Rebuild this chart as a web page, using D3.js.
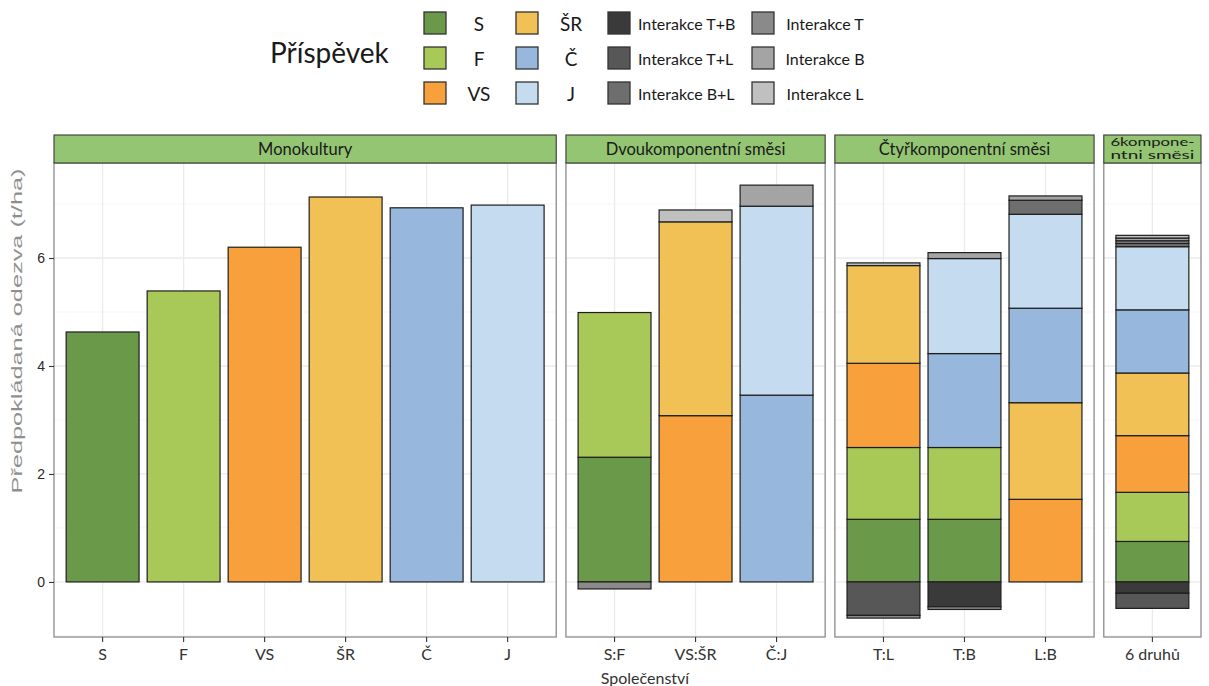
<!DOCTYPE html>
<html><head><meta charset="utf-8">
<script src="https://cdn.jsdelivr.net/npm/d3@7"></script>
<style>body{margin:0;background:#fff}</style>
</head><body><svg id="c" width="1209" height="686"></svg>
<script>
// ---------- data ----------
const communities = ["S","F","VS","ŠR","Č","J","S:F","VS:ŠR","Č:J","T:L","T:B","L:B","6 druhů"];
const communityFacet = [0,0,0,0,0,0,1,1,1,2,2,2,3];
const facetLabels = [["Monokultury"],["Dvoukomponentní směsi"],["Čtyřkomponentní směsi"],["6kompone-","ntni směsi"]];
const seriesNames = ["S","F","VS","ŠR","Č","J","Interakce T+B","Interakce T+L","Interakce B+L","Interakce T","Interakce B","Interakce L"];
const seriesColors = ["#6a994a","#a8c957","#f7a03c","#f2c155","#97b8dc","#c5dbef","#3a3a3a","#575757","#6e6e6e","#8a8a8a","#a4a4a4","#c0c0c0"];
const valS   = [4.63,0,0,0,0,0, 2.31,0,0, 1.16,1.16,0, 0.75];
const valF   = [0,5.39,0,0,0,0, 2.68,0,0, 1.33,1.33,0, 0.91];
const valVS  = [0,0,6.20,0,0,0, 0,3.08,0, 1.56,0,1.53, 1.05];
const valSR  = [0,0,0,7.13,0,0, 0,3.59,0, 1.81,0,1.79, 1.16];
const valC   = [0,0,0,0,6.93,0, 0,0,3.46, 0,1.74,1.75, 1.17];
const valJ   = [0,0,0,0,0,6.98, 0,0,3.50, 0,1.76,1.74, 1.17];
const valTB  = [0,0,0,0,0,0, 0,0,0, 0,-0.46,0, -0.21];
const valTL  = [0,0,0,0,0,0, 0,0,0, -0.62,0,0, -0.28];
const valBL  = [0,0,0,0,0,0, 0,0,0, 0,0,0.26, 0.06];
const valT   = [0,0,0,0,0,0, -0.13,0,0, -0.05,-0.05,0, 0.05];
const valB   = [0,0,0,0,0,0, 0,0,0.39, 0,0.11,0.08, 0.05];
const valL   = [0,0,0,0,0,0, 0,0.22,0, 0.05,0,0, 0.05];
const seriesValues = [valS,valF,valVS,valSR,valC,valJ,valTB,valTL,valBL,valT,valB,valL];
const stackUpOrder = ["S","F","VS","ŠR","Č","J","Interakce B+L","Interakce T","Interakce B","Interakce L","Interakce T+L","Interakce T+B"];
const stackDownOrder = ["Interakce T+B","Interakce T+L","Interakce T","Interakce B+L","Interakce B","Interakce L"];
const yTicks = [0,2,4,6];
const yMinorTicks = [-1,1,3,5,7];
const yLimits = [-1.02, 7.76];
const legendTitle = "Příspěvek";
const xTitle = "Společenství";
const yTitle = "Předpokládaná odezva (t/ha)";

// ---------- layout ----------
const svg = d3.select("#c");
const plotL = 54, plotR = 1201, stripTop = 135, stripH = 28, panelTop = 163, panelBottom = 637, gap = 9.7;
const lato = "Lato, 'Open Sans', sans-serif";
const arial = "'Liberation Sans', Arial, sans-serif";

const y = d3.scaleLinear().domain(yLimits).range([panelBottom, panelTop]);
const colorOf = d3.scaleOrdinal().domain(seriesNames).range(seriesColors);
const valueOf = (name, i) => seriesValues[seriesNames.indexOf(name)][i];

const facetCats = facetLabels.map((_, f) => communities.filter((c, i) => communityFacet[i] === f));
const units = facetCats.map(c => c.length + 0.2);
const unit = (plotR - plotL - gap * (facetLabels.length - 1)) / d3.sum(units);
let cursor = plotL;
const facets = facetCats.map((cats, f) => {
  const x0 = cursor, w = units[f] * unit;
  cursor += w + gap;
  const x = d3.scaleBand().domain(cats).range([x0, x0 + w]).paddingInner(0.1).paddingOuter(0.15);
  return {f, cats, x0, w, x};
});

// ---------- panels ----------
facets.forEach(p => {
  const g = svg.append("g");
  g.selectAll("line.ymin").data(yMinorTicks.filter(v => v > yLimits[0] && v < yLimits[1])).enter().append("line")
    .attr("x1", p.x0).attr("x2", p.x0 + p.w).attr("y1", d => y(d)).attr("y2", d => y(d))
    .attr("stroke", "#f2f2f2").attr("stroke-width", 0.8);
  g.selectAll("line.ymaj").data(yTicks).enter().append("line")
    .attr("x1", p.x0).attr("x2", p.x0 + p.w).attr("y1", d => y(d)).attr("y2", d => y(d))
    .attr("stroke", "#ebebeb").attr("stroke-width", 1.3);
  g.selectAll("line.xmaj").data(p.cats).enter().append("line")
    .attr("x1", d => p.x(d) + p.x.bandwidth() / 2).attr("x2", d => p.x(d) + p.x.bandwidth() / 2)
    .attr("y1", panelTop).attr("y2", panelBottom)
    .attr("stroke", "#ebebeb").attr("stroke-width", 1.3);

  p.cats.forEach(c => {
    const i = communities.indexOf(c);
    const segs = [];
    let acc = 0;
    stackUpOrder.forEach(s => { const v = valueOf(s, i); if (v > 0) { segs.push({s, y0: acc, y1: acc + v}); acc += v; } });
    acc = 0;
    stackDownOrder.forEach(s => { const v = valueOf(s, i); if (v < 0) { segs.push({s, y0: acc + v, y1: acc}); acc += v; } });
    g.selectAll(null).data(segs).enter().append("rect")
      .attr("x", p.x(c)).attr("width", p.x.bandwidth())
      .attr("y", d => y(d.y1)).attr("height", d => y(d.y0) - y(d.y1))
      .attr("fill", d => colorOf(d.s)).attr("stroke", "#1e1e1e").attr("stroke-width", 1.2);
  });

  g.append("rect").attr("x", p.x0).attr("y", panelTop).attr("width", p.w).attr("height", panelBottom - panelTop)
    .attr("fill", "none").attr("stroke", "#8c8c8c").attr("stroke-width", 1.3);

  const clipId = "clip" + p.f;
  svg.append("clipPath").attr("id", clipId).append("rect")
    .attr("x", p.x0).attr("y", stripTop).attr("width", p.w).attr("height", stripH);
  g.append("rect").attr("x", p.x0).attr("y", stripTop).attr("width", p.w).attr("height", stripH)
    .attr("fill", "#93c572").attr("stroke", "#3a3a3a").attr("stroke-width", 1.1);
  const lines = facetLabels[p.f];
  const st = g.append("g").attr("clip-path", `url(#${clipId})`);
  if (lines.length === 1) {
    st.append("text").attr("x", p.x0 + p.w / 2).attr("y", stripTop + stripH / 2 + 6)
      .attr("text-anchor", "middle").attr("font-family", lato).attr("font-size", 16.5).attr("fill", "#1a1a1a")
      .text(lines[0]);
  } else {
    lines.forEach((t, k) => {
      st.append("text").attr("x", p.x0 + p.w / 2).attr("y", stripTop + 11 + k * 13)
        .attr("text-anchor", "middle").attr("font-family", lato).attr("font-size", 11.5).attr("fill", "#1a1a1a")
        .attr("textLength", 84).attr("lengthAdjust", "spacingAndGlyphs")
        .text(t);
    });
  }

  const ax = d3.axisBottom(p.x).tickSize(5).tickPadding(7);
  const axg = svg.append("g").attr("transform", `translate(0,${panelBottom})`).call(ax);
  axg.select(".domain").remove();
  axg.selectAll(".tick line").attr("stroke", "#333").attr("stroke-width", 1.1);
  axg.selectAll(".tick text").attr("font-family", lato).attr("font-size", 16).attr("fill", "#333");
});

const yax = d3.axisLeft(y).tickValues(yTicks).tickSize(5).tickPadding(4).tickFormat(d3.format("d"));
const yg = svg.append("g").attr("transform", `translate(${plotL},0)`).call(yax);
yg.select(".domain").remove();
yg.selectAll(".tick line").attr("stroke", "#333").attr("stroke-width", 1.1);
yg.selectAll(".tick text").attr("font-family", arial).attr("font-size", 14).attr("fill", "#2a2a2a");

svg.append("text").attr("transform", "translate(22,331) rotate(-90)")
  .attr("text-anchor", "middle").attr("font-family", arial).attr("font-size", 14).attr("fill", "#8f8f8f")
  .attr("textLength", 325).attr("lengthAdjust", "spacingAndGlyphs").text(yTitle);
svg.append("text").attr("x", 645).attr("y", 684).attr("text-anchor", "middle")
  .attr("font-family", lato).attr("font-size", 16).attr("fill", "#333").text(xTitle);

// ---------- legend ----------
svg.append("text").attr("x", 270).attr("y", 63).attr("font-family", lato).attr("font-size", 28).attr("fill", "#1a1a1a").text(legendTitle);
const legCols = [424, 516, 608, 752];
const legRowsTop = [12, 47, 82];
seriesNames.forEach((s, k) => {
  const col = Math.floor(k / 3), row = k % 3;
  const kx = legCols[col], ky = legRowsTop[row];
  svg.append("rect").attr("x", kx).attr("y", ky).attr("width", 22).attr("height", 22)
    .attr("fill", seriesColors[k]).attr("stroke", "#333").attr("stroke-width", 1.3);
  const t = svg.append("text").attr("y", ky + 11).attr("dominant-baseline", "central")
    .attr("font-family", lato).attr("fill", "#1a1a1a").text(s);
  if (col < 2) t.attr("x", kx + 55).attr("text-anchor", "middle").attr("font-size", 19);
  else if (col === 2) t.attr("x", kx + 30).attr("text-anchor", "start").attr("font-size", 16);
  else t.attr("x", kx + 73).attr("text-anchor", "middle").attr("font-size", 16);
});
</script></body></html>
